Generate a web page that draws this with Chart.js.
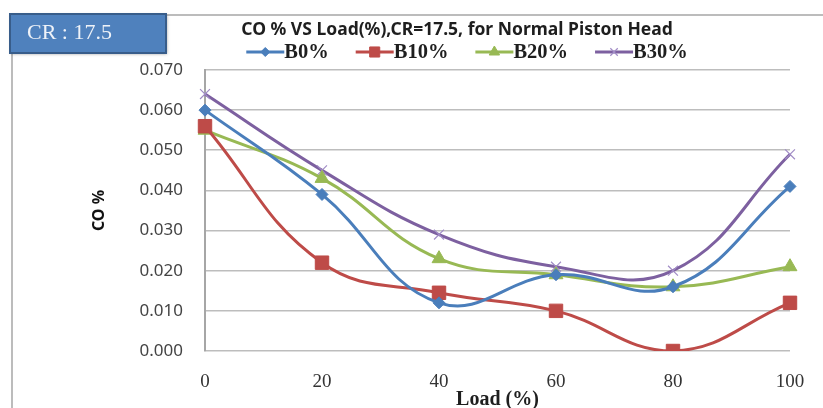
<!DOCTYPE html>
<html>
<head>
<meta charset="utf-8">
<script src="https://cdn.jsdelivr.net/npm/chart.js@4.4.1/dist/chart.umd.min.js"></script>
<style>
  body { margin: 0; background: #fff; }
  #wrap { width: 823px; height: 408px; }
</style>
</head>
<body>
<div id="wrap"><canvas id="graf" width="823" height="408"></canvas></div>
<script>
// data
const loads = ["0", "20", "40", "60", "80", "100"];
const seriesNames = ["B0%", "B10%", "B20%", "B30%"];
const b0 = [0.060, 0.039, 0.012, 0.019, 0.016, 0.041];
const b10 = [0.056, 0.022, 0.0145, 0.010, 0.000, 0.012];
const b20 = [0.055, 0.043, 0.023, 0.019, 0.016, 0.021];
const b30 = [0.064, 0.045, 0.029, 0.021, 0.020, 0.049];
const chartTitle = "CO % VS Load(%),CR=17.5, for Normal Piston Head";
const crText = "CR : 17.5";

const barvy = ["#4a7ebb", "#be4b48", "#98b954", "#7d60a0"];
const znacky = ["rectRot", "rect", "triangle", "crossRot"];
const velikosti = [6, 9.5, 8, 7];

function udelejDataset(i, data) {
    return {
        label: seriesNames[i], data: data,
        borderColor: barvy[i], backgroundColor: barvy[i],
        borderWidth: 3, tension: 0.42,
        pointStyle: znacky[i], pointRadius: velikosti[i], pointHoverRadius: velikosti[i],
        pointBorderWidth: i === 3 ? 1.2 : 1,
        pointBorderColor: i === 3 ? "#a18cc6" : barvy[i],
        pointBackgroundColor: barvy[i]
    };
}

// title, legend, CR box and the outer frame
const ozdoby = {
    id: "ozdoby",
    afterDraw: function(chart) {
        const ctx = chart.ctx;
        ctx.save();
        // frame
        ctx.strokeStyle = "#a6a6a6"; ctx.lineWidth = 1.5;
        ctx.beginPath(); ctx.moveTo(160, 15); ctx.lineTo(823, 15); ctx.stroke();
        ctx.beginPath(); ctx.moveTo(12, 50); ctx.lineTo(12, 408); ctx.stroke();
        // CR box
        ctx.shadowColor = "rgba(0,0,0,0.35)"; ctx.shadowBlur = 3; ctx.shadowOffsetX = 1; ctx.shadowOffsetY = 1;
        ctx.fillStyle = "#4f81bd"; ctx.fillRect(10, 14, 156, 39);
        ctx.shadowColor = "transparent";
        ctx.strokeStyle = "#385d8a"; ctx.lineWidth = 2; ctx.strokeRect(10, 14, 156, 39);
        ctx.fillStyle = "#eef2f8"; ctx.font = "22px 'Liberation Serif'"; ctx.textBaseline = "middle"; ctx.textAlign = "left";
        ctx.fillText(crText, 27, 33);
        // title
        ctx.fillStyle = "#1e1e1e"; ctx.font = "bold 17.5px 'Noto Sans'"; ctx.textAlign = "center";
        ctx.fillText(chartTitle, 457, 30);
        // legend
        ctx.font = "bold 20.5px 'Liberation Serif'"; ctx.textAlign = "left";
        const delkaCary = 38, mezera = 27;
        let sirka = 0;
        chart.data.datasets.forEach(function(ds) { sirka += delkaCary + ctx.measureText(ds.label).width + mezera; });
        sirka -= mezera;
        let x = 467 - sirka / 2;
        const y = 52;
        chart.data.datasets.forEach(function(ds, i) {
            ctx.strokeStyle = ds.borderColor; ctx.lineWidth = 3;
            ctx.beginPath(); ctx.moveTo(x, y); ctx.lineTo(x + delkaCary, y); ctx.stroke();
            ctx.fillStyle = ds.pointBackgroundColor; ctx.strokeStyle = ds.pointBorderColor; ctx.lineWidth = ds.pointBorderWidth;
            Chart.helpers.drawPoint(ctx, { pointStyle: ds.pointStyle, rotation: 0, radius: ds.pointRadius * 0.75, borderWidth: ds.pointBorderWidth }, x + delkaCary / 2, y);
            x += delkaCary;
            ctx.fillStyle = "#1e1e1e";
            ctx.fillText(ds.label, x, y + 1);
            x += ctx.measureText(ds.label).width + mezera;
        });
        ctx.restore();
    }
};

const ctx = document.getElementById("graf").getContext("2d");
new Chart(ctx, {
    type: "line",
    data: {
        labels: loads,
        datasets: [udelejDataset(0, b0), udelejDataset(1, b10), udelejDataset(2, b20), udelejDataset(3, b30)]
    },
    options: {
        responsive: false, animation: false,
        layout: { padding: { left: 90, right: 33, top: 70, bottom: 0 } },
        plugins: { legend: { display: false }, title: { display: false }, tooltip: { enabled: false } },
        scales: {
            x: {
                offset: false,
                grid: { display: false },
                border: { display: false },
                ticks: { color: "#333", padding: 12, autoSkip: false, maxRotation: 0, font: { family: "'Liberation Serif'", size: 19 } },
                title: { display: true, text: "Load (%)", color: "#1e1e1e", padding: { top: 0, bottom: -2 }, font: { family: "'Liberation Serif'", size: 20, weight: "bold", lineHeight: 1 } },
                afterFit: function(scale) { scale.height = 57; }
            },
            y: {
                min: 0, max: 0.07,
                grid: { color: "#bdbdbd", lineWidth: 1.6, drawTicks: false },
                border: { display: true, color: "#a6a6a6", width: 2 },
                ticks: { stepSize: 0.01, padding: 22, color: "#444", font: { family: "'Noto Sans'", size: 17 },
                    callback: function(v) { return v.toFixed(3); } },
                title: { display: true, text: "CO %", color: "#111", padding: 0, font: { family: "'Noto Sans'", size: 16, weight: "bold" } },
                afterFit: function(scale) { scale.width = 115; }
            }
        }
    },
    plugins: [ozdoby]
});
</script>
</body>
</html>
